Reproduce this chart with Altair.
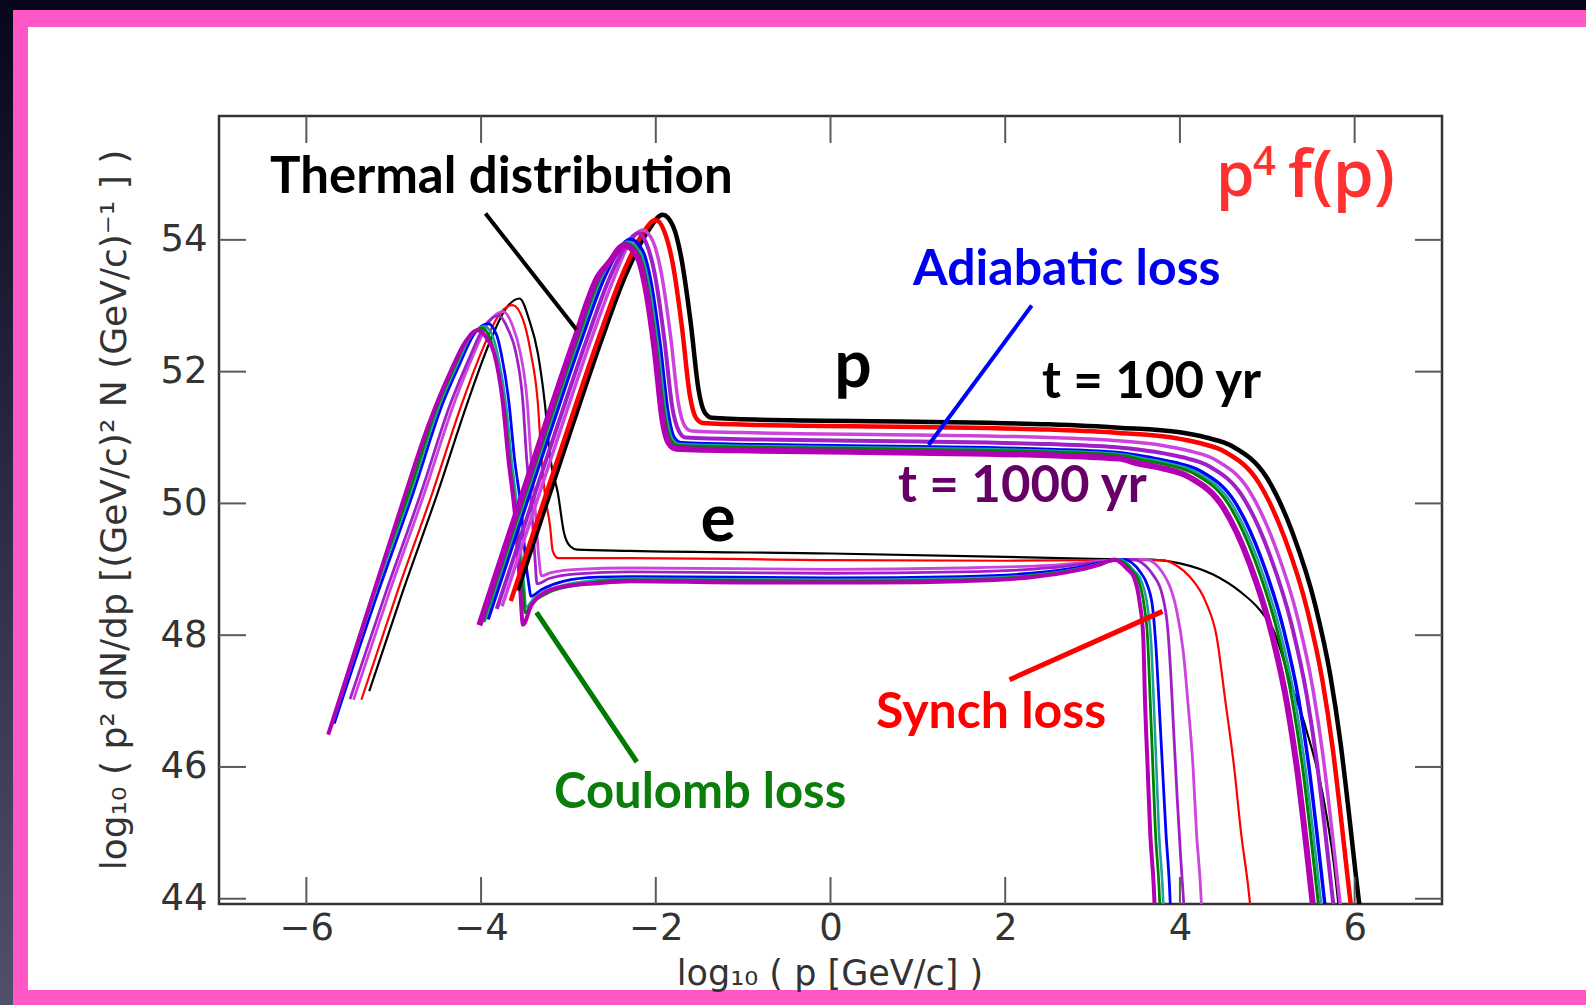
import altair as alt
import pandas as pd

# ---------------- tick values ----------------
x_ticks = [-6, -4, -2, 0, 2, 4, 6]
y_ticks = [44, 46, 48, 50, 52, 54]

# ---------------- proton curves (t = 100 ... 1000 yr) ----------------
p_t100_x = [-3.58, -3.30, -2.95, -2.63, -2.35, -2.10, -1.92, -1.80, -1.71, -1.60, -1.51, -1.44, -1.36, -0.80, 1.00, 2.50, 3.30, 4.00, 4.30, 4.61, 4.99, 5.29, 5.55, 5.72, 5.84, 5.93, 6.01, 6.09]
p_t100_y = [48.68, 49.80, 51.20, 52.45, 53.45, 54.11, 54.38, 54.20, 53.74, 52.74, 51.72, 51.38, 51.30, 51.27, 51.24, 51.20, 51.15, 51.08, 51.00, 50.86, 50.40, 49.55, 48.45, 47.40, 46.35, 45.35, 44.40, 43.50]

p_t200_x = [-3.66, -3.34, -2.99, -2.67, -2.39, -2.18, -2.00, -1.90, -1.81, -1.70, -1.61, -1.54, -1.46, -0.80, 1.00, 2.50, 3.30, 3.91, 4.21, 4.52, 4.90, 5.20, 5.46, 5.63, 5.75, 5.84, 5.92, 6.00]
p_t200_y = [48.52, 49.80, 51.20, 52.45, 53.45, 54.03, 54.30, 54.12, 53.67, 52.67, 51.64, 51.30, 51.22, 51.19, 51.16, 51.12, 51.07, 51.00, 50.92, 50.78, 50.32, 49.47, 48.37, 47.32, 46.27, 45.27, 44.32, 43.42]

p_t300_x = [-3.76, -3.42, -3.07, -2.75, -2.47, -2.33, -2.15, -2.03, -1.94, -1.83, -1.74, -1.67, -1.59, -0.80, 1.00, 2.50, 3.30, 3.80, 4.10, 4.41, 4.79, 5.09, 5.35, 5.52, 5.64, 5.73, 5.81, 5.89]
p_t300_y = [48.44, 49.80, 51.20, 52.45, 53.45, 53.88, 54.15, 53.97, 53.52, 52.53, 51.51, 51.18, 51.10, 51.07, 51.04, 51.00, 50.95, 50.88, 50.80, 50.66, 50.20, 49.35, 48.25, 47.20, 46.15, 45.15, 44.20, 43.30]

p_t400_x = [-3.82, -3.47, -3.12, -2.80, -2.52, -2.38, -2.20, -2.10, -2.01, -1.90, -1.81, -1.74, -1.66, -0.80, 1.00, 2.50, 3.30, 3.73, 4.03, 4.34, 4.72, 5.02, 5.28, 5.45, 5.57, 5.66, 5.74, 5.82]
p_t400_y = [48.40, 49.80, 51.20, 52.45, 53.45, 53.83, 54.10, 53.92, 53.47, 52.47, 51.45, 51.11, 51.00, 50.97, 50.94, 50.90, 50.85, 50.78, 50.70, 50.56, 50.10, 49.25, 48.15, 47.10, 46.05, 45.05, 44.10, 43.20]

p_t500_x = [-3.92, -3.53, -3.18, -2.86, -2.58, -2.47, -2.29, -2.15, -2.06, -1.95, -1.86, -1.79, -1.71, -0.80, 1.00, 2.50, 3.30, 3.64, 3.94, 4.25, 4.63, 4.93, 5.19, 5.36, 5.48, 5.57, 5.65, 5.73]
p_t500_y = [48.24, 49.80, 51.20, 52.45, 53.45, 53.74, 54.01, 53.83, 53.39, 52.40, 51.38, 51.00, 50.92, 50.89, 50.86, 50.82, 50.77, 50.70, 50.62, 50.48, 50.02, 49.17, 48.07, 47.02, 45.97, 44.97, 44.02, 43.12]

p_t600_x = [-3.96, -3.56, -3.21, -2.89, -2.61, -2.50, -2.32, -2.17, -2.08, -1.97, -1.88, -1.81, -1.73, -0.80, 1.00, 2.50, 3.30, 3.60, 3.90, 4.21, 4.59, 4.89, 5.15, 5.32, 5.44, 5.53, 5.61, 5.69]
p_t600_y = [48.20, 49.80, 51.20, 52.45, 53.45, 53.70, 53.97, 53.79, 53.35, 52.36, 51.35, 50.98, 50.90, 50.87, 50.84, 50.80, 50.75, 50.68, 50.60, 50.46, 50.00, 49.15, 48.05, 47.00, 45.95, 44.95, 44.00, 43.10]

p_t700_x = [-3.98, -3.58, -3.23, -2.91, -2.63, -2.52, -2.34, -2.19, -2.10, -1.99, -1.90, -1.83, -1.75, -0.80, 1.00, 2.50, 3.30, 3.57, 3.87, 4.18, 4.56, 4.86, 5.12, 5.29, 5.41, 5.50, 5.58, 5.66]
p_t700_y = [48.20, 49.80, 51.20, 52.45, 53.45, 53.68, 53.95, 53.77, 53.33, 52.34, 51.33, 50.96, 50.88, 50.85, 50.82, 50.78, 50.73, 50.66, 50.58, 50.44, 49.98, 49.13, 48.03, 46.98, 45.93, 44.93, 43.98, 43.08]

p_t1000_x = [-4.02, -3.61, -3.26, -2.94, -2.66, -2.54, -2.36, -2.21, -2.12, -2.01, -1.92, -1.85, -1.77, -0.80, 1.00, 2.50, 3.30, 3.51, 3.81, 4.12, 4.50, 4.80, 5.06, 5.23, 5.35, 5.44, 5.52, 5.60]
p_t1000_y = [48.15, 49.80, 51.20, 52.45, 53.45, 53.65, 53.92, 53.74, 53.29, 52.30, 51.24, 50.91, 50.83, 50.80, 50.77, 50.73, 50.68, 50.61, 50.53, 50.39, 49.93, 49.08, 47.98, 46.93, 45.88, 44.88, 43.93, 43.03]

# ---------------- electron curves ----------------
e_t100_x = [-5.28, -4.90, -4.50, -4.15, -3.90, -3.72, -3.56, -3.45, -3.35, -3.27, -3.21, -3.12, -3.05, -2.98, -2.90, -2.30, 0.00, 2.00, 3.00, 3.62, 4.00, 4.38, 4.69, 4.91, 5.07, 5.25, 5.45, 5.64, 5.76, 5.84]
e_t100_y = [47.15, 48.65, 50.15, 51.55, 52.45, 52.95, 53.11, 52.79, 52.28, 51.52, 50.71, 50.15, 49.55, 49.35, 49.30, 49.28, 49.24, 49.19, 49.16, 49.15, 49.09, 48.92, 48.66, 48.39, 48.08, 47.35, 46.55, 45.55, 44.55, 43.60]

e_t200_x = [-5.37, -4.96, -4.56, -4.21, -3.98, -3.80, -3.64, -3.52, -3.43, -3.35, -3.31, -3.27, -3.21, -3.18, -3.12, -2.30, 0.00, 2.00, 3.00, 3.80, 3.97, 4.11, 4.30, 4.42, 4.52, 4.62, 4.70, 4.78, 4.83]
e_t200_y = [47.02, 48.65, 50.15, 51.55, 52.35, 52.85, 53.01, 52.79, 52.28, 51.52, 50.71, 50.15, 49.65, 49.28, 49.17, 49.17, 49.14, 49.13, 49.14, 49.14, 49.05, 48.89, 48.49, 47.98, 47.00, 46.00, 45.00, 44.20, 43.60]

e_t300_x = [-5.46, -5.05, -4.65, -4.30, -4.09, -3.91, -3.75, -3.64, -3.55, -3.47, -3.43, -3.38, -3.34, -3.31, -3.20, -2.90, -2.30, 0.00, 1.50, 2.50, 3.20, 3.60, 3.85, 3.96, 4.04, 4.09, 4.15, 4.19, 4.23, 4.26]
e_t300_y = [47.02, 48.65, 50.15, 51.55, 52.25, 52.75, 52.91, 52.70, 52.28, 51.52, 50.71, 49.90, 49.20, 48.90, 48.95, 49.00, 49.02, 49.00, 49.02, 49.06, 49.13, 49.15, 48.84, 48.39, 47.73, 47.00, 46.00, 45.00, 44.30, 43.60]

e_t400_x = [-5.50, -5.09, -4.69, -4.34, -4.14, -3.96, -3.80, -3.69, -3.60, -3.52, -3.48, -3.42, -3.38, -3.36, -3.22, -2.90, -2.30, 0.00, 1.50, 2.50, 3.10, 3.45, 3.70, 3.80, 3.86, 3.90, 3.93, 3.97, 4.01, 4.06]
e_t400_y = [47.03, 48.65, 50.15, 51.55, 52.19, 52.69, 52.85, 52.64, 52.28, 51.52, 50.71, 49.90, 49.10, 48.78, 48.86, 48.93, 48.96, 48.94, 48.96, 49.02, 49.11, 49.15, 48.90, 48.60, 48.10, 47.30, 46.50, 45.50, 44.60, 43.60]

e_t500_x = [-5.68, -5.18, -4.78, -4.43, -4.26, -4.08, -3.92, -3.82, -3.77, -3.68, -3.62, -3.54, -3.49, -3.45, -3.43, -3.31, -3.05, -2.67, -2.29, 0.00, 1.50, 2.30, 2.80, 3.10, 3.35, 3.55, 3.63, 3.69, 3.73, 3.76, 3.80, 3.84, 3.88, 3.90]
e_t500_y = [46.66, 48.65, 50.15, 51.55, 52.07, 52.57, 52.73, 52.55, 52.28, 51.52, 50.71, 49.90, 49.14, 48.74, 48.59, 48.69, 48.82, 48.88, 48.89, 48.87, 48.89, 48.94, 49.02, 49.10, 49.15, 48.95, 48.75, 48.39, 47.73, 47.00, 46.00, 45.00, 44.20, 43.60]

e_t600_x = [-5.71, -5.21, -4.81, -4.46, -4.30, -4.12, -3.96, -3.86, -3.80, -3.71, -3.65, -3.58, -3.53, -3.50, -3.49, -3.40, -3.20, -2.90, -2.29, 0.00, 1.50, 2.30, 2.80, 3.10, 3.30, 3.48, 3.56, 3.63, 3.67, 3.70, 3.73, 3.76, 3.80, 3.82]
e_t600_y = [46.62, 48.65, 50.15, 51.55, 52.03, 52.53, 52.69, 52.51, 52.20, 51.45, 50.65, 49.85, 49.05, 48.62, 48.42, 48.55, 48.70, 48.80, 48.86, 48.84, 48.86, 48.91, 49.00, 49.09, 49.15, 48.97, 48.82, 48.42, 47.90, 47.00, 46.00, 45.00, 44.20, 43.60]

e_t700_x = [-5.73, -5.23, -4.83, -4.48, -4.33, -4.15, -3.99, -3.89, -3.83, -3.73, -3.67, -3.60, -3.55, -3.51, -3.50, -3.42, -3.22, -2.90, -2.29, 0.00, 1.50, 2.30, 2.80, 3.10, 3.28, 3.45, 3.52, 3.59, 3.63, 3.66, 3.69, 3.72, 3.76, 3.78]
e_t700_y = [46.56, 48.65, 50.15, 51.55, 52.00, 52.50, 52.66, 52.48, 52.18, 51.40, 50.62, 49.80, 49.00, 48.55, 48.34, 48.48, 48.65, 48.76, 48.84, 48.82, 48.84, 48.90, 48.99, 49.08, 49.15, 48.98, 48.85, 48.45, 47.95, 47.00, 46.00, 45.00, 44.20, 43.60]

e_t1000_x = [-5.75, -5.35, -4.95, -4.60, -4.35, -4.18, -4.04, -3.93, -3.85, -3.75, -3.69, -3.60, -3.56, -3.52, -3.43, -3.28, -3.05, -2.67, -2.29, -1.00, 0.50, 1.50, 2.30, 2.80, 3.10, 3.25, 3.40, 3.47, 3.54, 3.58, 3.60, 3.63, 3.66, 3.70, 3.72]
e_t1000_y = [46.49, 48.15, 49.80, 51.20, 52.00, 52.45, 52.63, 52.50, 52.28, 51.52, 50.71, 49.65, 48.89, 48.16, 48.44, 48.64, 48.74, 48.79, 48.82, 48.80, 48.80, 48.82, 48.88, 48.98, 49.08, 49.15, 49.00, 48.89, 48.49, 47.98, 47.02, 46.00, 45.00, 44.20, 43.60]

# ---------------- styles ----------------
W, H = 1223, 788          # plot area
PAD_L, PAD_T = 219, 116   # plot origin in the page

series_colors = ["#000000", "#ff0000", "#cc44dd", "#a020c8", "#0000ff", "#1fa0a0", "#008000", "#b400b4"]
proton_widths = [4.5, 4.5, 3.5, 4, 3.5, 2.5, 3, 6]
electron_widths = [2.2, 2.2, 2.8, 2.8, 2.8, 2.6, 2.8, 4]

proton_series = [(p_t100_x, p_t100_y), (p_t200_x, p_t200_y), (p_t300_x, p_t300_y), (p_t400_x, p_t400_y),
                 (p_t500_x, p_t500_y), (p_t600_x, p_t600_y), (p_t700_x, p_t700_y), (p_t1000_x, p_t1000_y)]
electron_series = [(e_t100_x, e_t100_y), (e_t200_x, e_t200_y), (e_t300_x, e_t300_y), (e_t400_x, e_t400_y),
                   (e_t500_x, e_t500_y), (e_t600_x, e_t600_y), (e_t700_x, e_t700_y), (e_t1000_x, e_t1000_y)]

xscale = alt.Scale(domain=[-7, 7], nice=False, zero=False)
yscale = alt.Scale(domain=[43.92, 55.88], nice=False, zero=False)
xax = alt.Axis(values=x_ticks, labelExpr="replace(datum.label, '-', '\u2212')",
               labelPadding=6, title=None, zindex=1)
yax = alt.Axis(values=y_ticks, labelPadding=12, title=None, zindex=1)

one = pd.DataFrame({"k": [0]})

def rect(x1, x2, y1, y2, fill):
    return alt.Chart(one).mark_rect(color=fill, strokeWidth=0).encode(
        x=alt.value(x1 - PAD_L), x2=alt.value(x2 - PAD_L),
        y=alt.value(y1 - PAD_T), y2=alt.value(y2 - PAD_T))

dark_grad = alt.LinearGradient(gradient="linear", x1=0, y1=0, x2=0, y2=1,
                               stops=[alt.GradientStop(color="#07061d", offset=0),
                                      alt.GradientStop(color="#50506a", offset=1)])
pink = "#ff58c6"
layers = [
    rect(0, 1586, 0, 10, "#06051a"),
    rect(0, 13, 0, 1005, dark_grad),
    rect(13, 1586, 10, 27, pink),
    rect(13, 28, 10, 1005, pink),
    rect(13, 1586, 990, 1005, pink),
]

def curve_layer(xs, ys, color, width):
    df = pd.DataFrame({"x": xs, "y": ys})
    return alt.Chart(df).mark_line(color=color, strokeWidth=width, clip=True,
                                   interpolate="monotone").encode(
        x=alt.X("x:Q", scale=xscale, axis=xax),
        y=alt.Y("y:Q", scale=yscale, axis=yax))

for (xs, ys), c, w in zip(electron_series, series_colors, electron_widths):
    layers.append(curve_layer(xs, ys, c, w))
for (xs, ys), c, w in zip(proton_series, series_colors, proton_widths):
    layers.append(curve_layer(xs, ys, c, w))

# inward ticks on all four sides
xt = pd.DataFrame({"x": x_ticks})
yt = pd.DataFrame({"y": y_ticks})
tick_color = "#5a5a5a"
layers += [
    alt.Chart(xt).mark_rule(color=tick_color, strokeWidth=2).encode(
        x=alt.X("x:Q", scale=xscale, axis=xax), y=alt.value(H), y2=alt.value(H - 27)),
    alt.Chart(xt).mark_rule(color=tick_color, strokeWidth=2).encode(
        x=alt.X("x:Q", scale=xscale, axis=xax), y=alt.value(0), y2=alt.value(27)),
    alt.Chart(yt).mark_rule(color=tick_color, strokeWidth=2).encode(
        y=alt.Y("y:Q", scale=yscale, axis=yax), x=alt.value(0), x2=alt.value(27)),
    alt.Chart(yt).mark_rule(color=tick_color, strokeWidth=2).encode(
        y=alt.Y("y:Q", scale=yscale, axis=yax), x=alt.value(W), x2=alt.value(W - 27)),
]

# pointer lines (page pixel coordinates)
def pointer(x1, y1, x2, y2, color, width):
    return alt.Chart(one).mark_rule(color=color, strokeWidth=width).encode(
        x=alt.value(x1 - PAD_L), y=alt.value(y1 - PAD_T),
        x2=alt.value(x2 - PAD_L), y2=alt.value(y2 - PAD_T))

layers += [
    pointer(485.5, 213.4, 576.6, 329.7, "#000000", 4),
    pointer(1031.7, 305.5, 928.6, 445.0, "#0000ff", 4),
    pointer(1009.5, 679.7, 1162.5, 611.4, "#ff0000", 5),
    pointer(536.5, 612.3, 636.8, 762.0, "#007a00", 5),
]

def label(txt, x, y, color, size, align="left", font="Lato", weight="bold", angle=0, baseline="alphabetic"):
    props = dict(text=txt, font=font, fontSize=size, color=color, align=align,
                 baseline=baseline, fontWeight=weight)
    if angle:
        props["angle"] = angle
    return alt.Chart(one).mark_text(**props).encode(
        x=alt.value(x - PAD_L), y=alt.value(y - PAD_T))

ZWNJ = "\u200c"
layers += [
    label("Thermal distribu" + ZWNJ + "tion", 270, 193, "#000000", 51),
    label("p", 1216, 196, "#ff3030", 62, font="Open Sans", weight=600),
    label("4", 1253, 175, "#ff3030", 40, font="Open Sans", weight=600),
    label("f(p)", 1288, 197, "#ff3030", 66, font="Open Sans", weight=600),
    label("Adiaba" + ZWNJ + "tic loss", 913, 285, "#0000ee", 50),
    label("p", 853, 387, "#000000", 66, align="center"),
    label("t = 100 yr", 1042, 398, "#000000", 51),
    label("t = 1000 yr", 898, 502, "#660066", 51),
    label("e", 718, 541, "#000000", 66, align="center"),
    label("Synch loss", 876, 728, "#ff0000", 50),
    label("Coulomb loss", 554, 808, "#0a7d0a", 49),
    # axis titles
    label("log\u2081\u2080 ( p [GeV/c] )", 830, 985, "#333333", 35, align="center",
          font="DejaVu Sans", weight="normal"),
    label("log\u2081\u2080 ( p\u00b2  dN/dp [(GeV/c)\u00b2  N (GeV/c)\u207b\u00b9 ] )", 126, 510, "#333333", 36,
          align="center", font="DejaVu Sans", weight="normal", angle=270),
]

chart = alt.layer(*layers).properties(
    width=W, height=H,
    autosize=alt.AutoSizeParams(type="none"),
    padding={"left": PAD_L, "top": PAD_T, "right": 1586 - PAD_L - W, "bottom": 1005 - PAD_T - H},
    background="white",
).configure_view(stroke="#333333", strokeWidth=2.5).configure_axis(
    labelFont="DejaVu Sans", labelFontSize=37, labelColor="#333333",
    ticks=False, domain=False, grid=False,
)

chart.save("out.html", embed_options={"renderer": "svg", "actions": False})
